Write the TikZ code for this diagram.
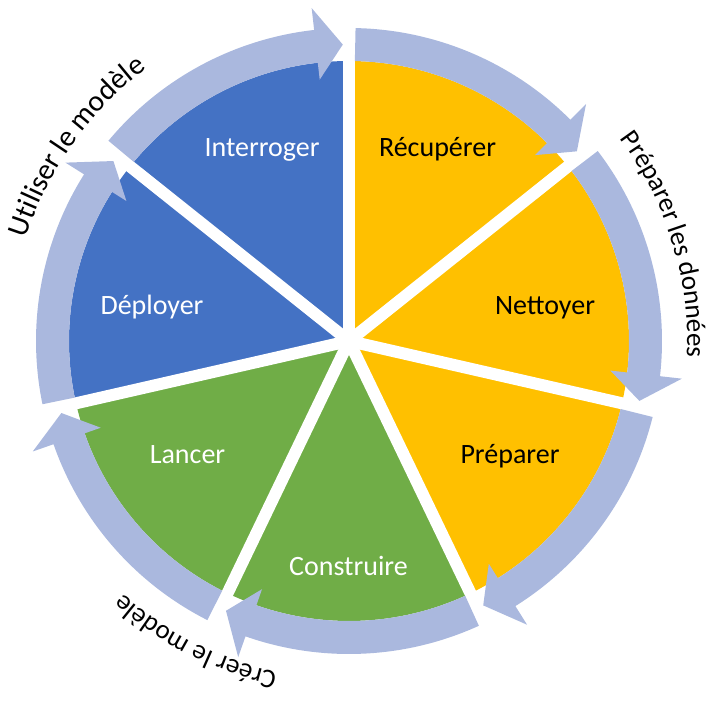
\documentclass[tikz,border=0pt]{standalone}
\usepackage{fontspec}
\setmainfont{Carlito}
\usetikzlibrary{decorations.text}
\definecolor{yel}{HTML}{FFC000}
\definecolor{grn}{HTML}{70AD47}
\definecolor{blu}{HTML}{4472C4}
\definecolor{arr}{RGB}{170,184,222}
\newcommand\outfont{\fontsize{27}{30}\selectfont}
\newcommand\outfontB{\fontsize{29.5}{32}\selectfont}
\tikzset{
  lab/.style={anchor=base, inner sep=0pt, font=\fontsize{28}{30}\selectfont},
  gapline/.style={white, line width=12pt},
  arrowband/.style={fill=arr},
  outlabel/.style={decorate, decoration={text along path, text align=center, text={|\outfont|#1}}},
  outlabelB/.style={decorate, decoration={text along path, text align=center, text={|\outfontB|#1}}}
}
\begin{document}
\begin{tikzpicture}[x=1pt,y=1pt]
\useasboundingbox (0,0) rectangle (706,702);
\begin{scope}[shift={(349,361)}]
  % sectors
  \foreach \k/\col in {0/yel,1/yel,2/yel,3/grn,4/grn,5/blu,6/blu}{
    \pgfmathsetmacro{\angS}{90-51.428571*\k}
    \pgfmathsetmacro{\angE}{\angS-51.428571}
    \fill[\col] (0,0) -- (\angS:280pt) arc[start angle=\angS, end angle=\angE, radius=280pt] -- cycle;
  }
  % gaps
  \foreach \k in {0,...,6}{
    \pgfmathsetmacro{\angS}{90-51.428571*\k}
    \draw[gapline] (0,0) -- (\angS:290pt);
  }
  % arrows
  \foreach \k in {0,...,6}{
    \pgfmathsetmacro{\angS}{90-51.428571*\k-1.2}
    \pgfmathsetmacro{\angT}{90-51.428571*(\k+1)+1.2}
    \pgfmathsetmacro{\angB}{\angT+5.2}
    \fill[arrowband] (\angS:313pt) arc[start angle=\angS, end angle=\angB, radius=313pt]
      -- (\angB:335pt) -- (\angT:296.5pt) -- (\angB:263pt) -- (\angB:280pt)
      arc[start angle=\angB, end angle=\angS, radius=280pt] -- cycle;
  }
  % outer labels
  \path[outlabelB={Utiliser le modèle}] (204.5:339pt) arc[start angle=204.5, end angle=84.5, radius=339pt];
  \path[outlabel={Préparer les données}] (77:338pt) arc[start angle=77, end angle=-43, radius=338pt];
  \path[outlabel={Créer le modèle}] (-57:339pt) arc[start angle=-57, end angle=-177, radius=339pt];
\end{scope}
\node[lab, text=black] (recup) at (437.5,545) {Récupérer};
\node[lab, text=white] (interr) at (262,545) {Interroger};
\node[lab, text=white] (deploy) at (152,387) {Déployer};
\node[lab, text=black] (nettoy) at (545,387) {Nettoyer};
\node[lab, text=black] (prepar) at (510,239) {Préparer};
\node[lab, text=white] (lancer) at (187.5,239) {Lancer};
\node[lab, text=white] (constr) at (348.5,127) {Construire};
\end{tikzpicture}
\end{document}
